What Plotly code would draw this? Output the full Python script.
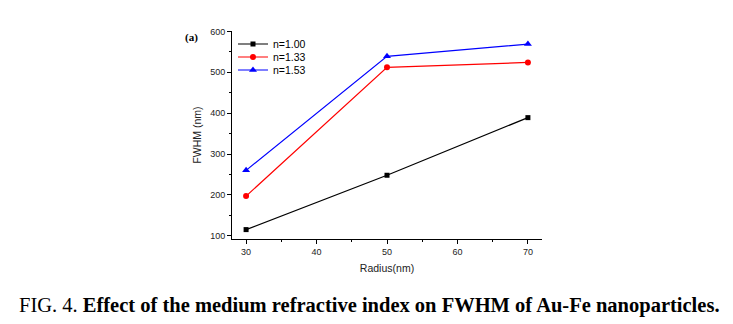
import plotly.graph_objects as go

radius = [30, 50, 70]
fwhm_100 = [115, 248, 389]
fwhm_133 = [197, 512, 524]
fwhm_153 = [260, 539, 569]
series_names = ["n=1.00", "n=1.33", "n=1.53"]
x_ticks = [30, 40, 50, 60, 70]
y_ticks = [100, 200, 300, 400, 500, 600]

L, R, T, B = 232, 542, 31, 239
PW, PH = R - L, B - T

def px(x):
    return (x - L) / PW

def py(y):
    return (B - y) / PH

fig = go.Figure()
fig.add_trace(go.Scatter(x=radius, y=fwhm_100, name=series_names[0], mode="lines+markers",
                         line=dict(color="black", width=1.2), legend="legend",
                         marker=dict(symbol="square", size=5, color="black")))
fig.add_trace(go.Scatter(x=radius, y=fwhm_133, name=series_names[1], mode="lines+markers",
                         line=dict(color="#ff0000", width=1.2), legend="legend2",
                         marker=dict(symbol="circle", size=6, color="#ff0000")))
fig.add_trace(go.Scatter(x=radius, y=fwhm_153, name=series_names[2], mode="lines+markers",
                         line=dict(color="#0000ff", width=1.2), legend="legend3",
                         marker=dict(symbol="triangle-up", size=7, color="#0000ff")))

axis_font = dict(family="Arial, Liberation Sans", size=9, color="#222")
title_font = dict(family="Arial, Liberation Sans", size=10.5, color="#222")
leg_font = dict(family="Arial, Liberation Sans", size=10.5, color="black")

def leg(yc):
    return dict(x=px(233), y=py(yc), xanchor="left", yanchor="middle", font=leg_font,
                bgcolor="rgba(0,0,0,0)", itemwidth=30, borderwidth=0)

fig.update_layout(
    width=733, height=324,
    margin=dict(l=L, r=733 - R, t=T, b=324 - B),
    paper_bgcolor="white", plot_bgcolor="white",
    showlegend=True,
    legend=leg(44), legend2=leg(57), legend3=leg(70),
    xaxis=dict(range=[28, 72], tickvals=x_ticks, showgrid=False, zeroline=False,
               showline=True, linecolor="black", linewidth=1,
               ticks="outside", ticklen=4, tickcolor="black", tickfont=axis_font,
               minor=dict(dtick=5, ticks="outside", ticklen=2, tickcolor="black"),
               title=dict(text="Radius(nm)", font=title_font, standoff=8)),
    yaxis=dict(range=[92, 601], tickvals=y_ticks, showgrid=False, zeroline=False,
               showline=True, linecolor="black", linewidth=1,
               ticks="outside", ticklen=4, tickcolor="black", tickfont=axis_font,
               minor=dict(dtick=50, ticks="outside", ticklen=2, tickcolor="black"),
               title=dict(text="FWHM (nm)", font=title_font, standoff=6)),
    annotations=[
        dict(text="<b>(a)</b>", x=px(191), y=py(37), xref="paper", yref="paper", showarrow=False,
             xanchor="center", yanchor="middle",
             font=dict(family="Liberation Serif", size=11, color="black")),
        dict(text="FIG. 4. <b>Effect of the medium refractive index on FWHM of Au-Fe nanoparticles.</b>",
             x=px(369), y=py(305), xref="paper", yref="paper", showarrow=False,
             xanchor="center", yanchor="middle",
             font=dict(family="Liberation Serif", size=20.5, color="black")),
    ],
)

fig.write_html("out.html")
